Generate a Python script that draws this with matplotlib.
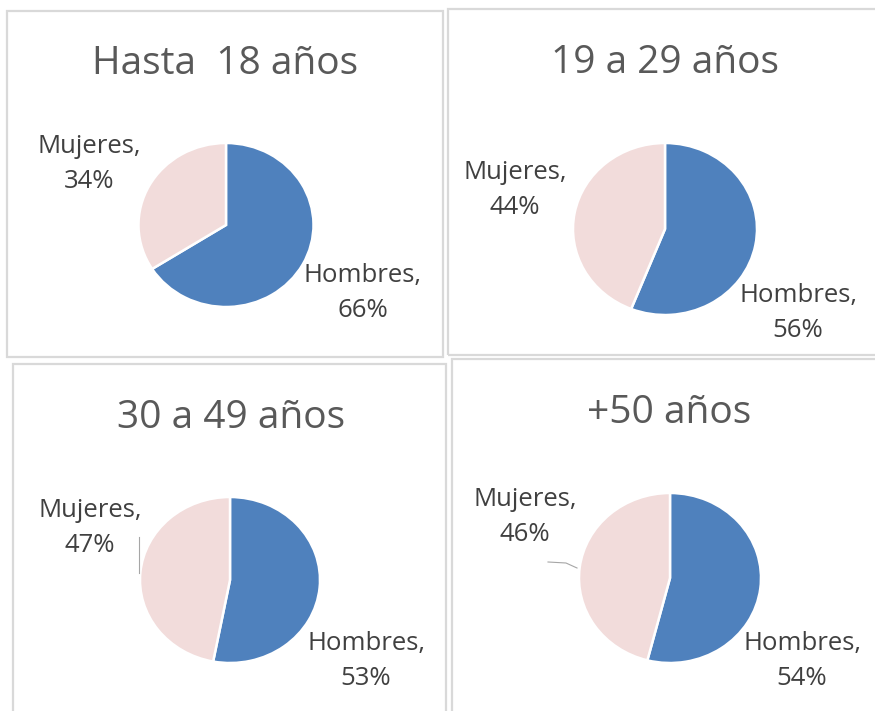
import matplotlib.pyplot as plt
from matplotlib.patches import Rectangle
from matplotlib.lines import Line2D

# data
titles = ["Hasta  18 años", "19 a 29 años", "30 a 49 años", "+50 años"]
categories = ["Hombres", "Mujeres"]
hombres = [66, 56, 53, 54]
mujeres = [34, 44, 47, 46]
colors = ["#4F81BD", "#F2DCDB"]

W, H = 875, 711
plt.rcParams['font.family'] = ['Open Sans', 'DejaVu Sans']
fig = plt.figure(figsize=(W / 100, H / 100), dpi=100)
fig.patch.set_facecolor('white')


def fx(x):
    return x / W


def fy(y):
    return 1 - y / H


# panel layout in pixels: border box, pie centre/radii, title baseline, label centres
panels = [
    dict(box=(7, 11, 443, 357), pie=(226, 225, 87.5, 82), title=(225, 74),
         lab_h=(363, 293), lab_m=(89, 164), leader=None),
    dict(box=(448, 9, 878, 355), pie=(665, 229, 92, 86), title=(665, 73),
         lab_h=(798, 313), lab_m=(515, 190), leader=None),
    dict(box=(13, 364, 446, 714), pie=(230, 580, 90, 83), title=(231, 428),
         lab_h=(366, 661), lab_m=(90, 528), leader=[(139, 537), (139, 573)]),
    dict(box=(452, 359, 878, 714), pie=(670, 578, 91, 85), title=(669, 423),
         lab_h=(802, 661), lab_m=(525, 517), leader=[(548, 562), (566, 563), (577, 568)]),
]

for i, p in enumerate(panels):
    x0, y0, x1, y1 = p['box']
    fig.add_artist(Rectangle((fx(x0), fy(y1)), fx(x1 - x0), (y1 - y0) / H,
                             transform=fig.transFigure, fill=False,
                             edgecolor='#D9D9D9', linewidth=1.6))

    cx, cy, rx, ry = p['pie']
    ax = fig.add_axes([fx(cx - rx), fy(cy + ry), fx(2 * rx), 2 * ry / H])
    ax.pie([hombres[i], mujeres[i]], colors=colors, startangle=90,
           counterclock=False,
           wedgeprops=dict(edgecolor='white', linewidth=1.8))
    ax.set_aspect('auto')
    ax.set_xlim(-1, 1)
    ax.set_ylim(-1, 1)
    ax.axis('off')

    tx, ty = p['title']
    fig.text(fx(tx), fy(ty), titles[i], ha='center', va='baseline',
             fontsize=28, color='#595959')

    vals = [hombres[i], mujeres[i]]
    for cat, v, pos in zip(categories, vals, [p['lab_h'], p['lab_m']]):
        fig.text(fx(pos[0]), fy(pos[1]), f"{cat},\n{v}%", ha='center',
                 va='center', fontsize=18.5, color='#404040', linespacing=1.5)

    if p['leader']:
        xs = [fx(a) for a, b in p['leader']]
        ys = [fy(b) for a, b in p['leader']]
        fig.add_artist(Line2D(xs, ys, transform=fig.transFigure,
                              color='#A6A6A6', linewidth=0.8))

fig.savefig('out.png', dpi=100)
